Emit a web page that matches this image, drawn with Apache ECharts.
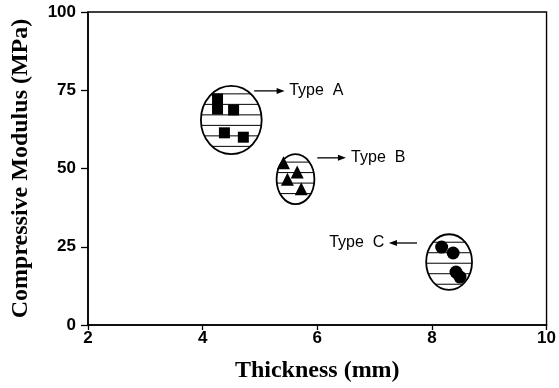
<!DOCTYPE html>
<html>
<head>
<meta charset="utf-8">
<script src="https://cdn.jsdelivr.net/npm/echarts@6/dist/echarts.min.js"></script>
<style>
  html, body { margin: 0; padding: 0; background: #fff; }
  #main { width: 559px; height: 388px; }
</style>
</head>
<body>
<div id="main"></div>
<script>
// measured points [thickness mm, modulus MPa]
var typeA = [[4.26, 72.2], [4.26, 69.0], [4.54, 68.7], [4.38, 61.4], [4.71, 60.0]];
var typeB = [[5.41, 51.8], [5.48, 46.6], [5.65, 48.9], [5.72, 43.5]];
var typeC = [[8.17, 24.9], [8.37, 23.0], [8.42, 16.9], [8.49, 15.3]];

// group ellipses: [cx, cy, rx, ry] in data units
var groups = [[4.50, 65.5, 0.53, 10.9], [5.62, 46.6, 0.33, 8.0], [8.30, 20.1, 0.40, 8.9]];

// annotations: [arrowFromX, arrowToX, y, textX, text]
var notes = [
  [4.90, 5.43, 74.8, 5.51, 'Type  A'],
  [6.00, 6.50, 53.4, 6.59, 'Type  B'],
  [7.74, 7.25, 26.2, 7.17, 'Type  C']
];

var xTicks = [2, 4, 6, 8, 10];
var yTicks = [0, 25, 50, 75, 100];

var myChart = echarts.init(document.getElementById('main'));

function renderGroup(params, api) {
  var c = api.coord([api.value(0), api.value(1)]);
  var s = api.size([api.value(2), api.value(3)]);
  var rx = s[0], ry = s[1];
  var kids = [];
  // horizontal hatching
  var step = 10.5;
  for (var dy = -ry + 8; dy < ry - 3; dy += step) {
    var half = rx * Math.sqrt(1 - (dy * dy) / (ry * ry));
    kids.push({
      type: 'line',
      shape: { x1: c[0] - half, y1: c[1] + dy, x2: c[0] + half, y2: c[1] + dy },
      style: { stroke: '#000', lineWidth: 1 }
    });
  }
  kids.push({
    type: 'ellipse',
    shape: { cx: c[0], cy: c[1], rx: rx, ry: ry },
    style: { fill: 'none', stroke: '#000', lineWidth: 1.8 }
  });
  return { type: 'group', children: kids };
}

function renderNote(params, api) {
  var a = api.coord([api.value(0), api.value(2)]);
  var b = api.coord([api.value(1), api.value(2)]);
  var t = api.coord([api.value(3), api.value(2)]);
  var dir = b[0] > a[0] ? 1 : -1;
  var text = notes[params.dataIndex][4];
  return {
    type: 'group',
    children: [
      { type: 'line', shape: { x1: a[0], y1: a[1], x2: b[0] - dir * 6, y2: b[1] },
        style: { stroke: '#000', lineWidth: 1.3 } },
      { type: 'polygon', shape: { points: [[b[0], b[1]], [b[0] - dir * 8, b[1] - 3], [b[0] - dir * 8, b[1] + 3]] },
        style: { fill: '#000' } },
      { type: 'text', x: t[0], y: t[1],
        style: { text: text, fill: '#000', font: '16px "Liberation Sans", Arial, sans-serif',
                 align: dir > 0 ? 'left' : 'right', verticalAlign: 'middle' } }
    ]
  };
}

var titleFont = { fontFamily: '"Liberation Serif", "Times New Roman", serif', fontWeight: 'bold', fontSize: 24, color: '#000' };
var tickFont = { color: '#000', fontSize: 17, fontWeight: 'bold', fontFamily: '"Liberation Sans", Arial, sans-serif' };
var dot = { color: '#000', opacity: 1 };

var option = {
  animation: false,
  grid: { left: 88, right: 11, top: 12, bottom: 61, show: true, borderColor: '#000', borderWidth: 1.4 },
  xAxis: {
    type: 'value', min: xTicks[0], max: xTicks[xTicks.length - 1], interval: 2,
    name: 'Thickness (mm)', nameLocation: 'middle', nameGap: 34, nameTextStyle: titleFont,
    axisLine: { lineStyle: { color: '#000', width: 1.6 } },
    axisTick: { inside: false, length: 5, lineStyle: { color: '#000', width: 1.3 } },
    axisLabel: Object.assign({ margin: 5 }, tickFont),
    splitLine: { show: false }
  },
  yAxis: {
    type: 'value', min: yTicks[0], max: yTicks[yTicks.length - 1], interval: 25,
    name: 'Compressive Modulus (MPa)', nameLocation: 'middle', nameGap: 55, nameTextStyle: titleFont,
    axisLine: { lineStyle: { color: '#000', width: 1.6 } },
    axisTick: { inside: false, length: 7, lineStyle: { color: '#000', width: 1.3 } },
    axisLabel: Object.assign({ margin: 12 }, tickFont),
    splitLine: { show: false }
  },
  series: [
    { type: 'custom', renderItem: renderGroup, data: groups, z: 1, silent: true },
    { type: 'scatter', data: typeA, symbol: 'rect', symbolSize: 11, itemStyle: dot, z: 3 },
    { type: 'scatter', data: typeB, symbol: 'triangle', symbolSize: 13, itemStyle: dot, z: 3 },
    { type: 'scatter', data: typeC, symbol: 'circle', symbolSize: 13, itemStyle: dot, z: 3 },
    { type: 'custom', renderItem: renderNote, data: notes.map(function (n) { return n.slice(0, 4); }), z: 2, silent: true }
  ]
};

myChart.setOption(option);
</script>
</body>
</html>
